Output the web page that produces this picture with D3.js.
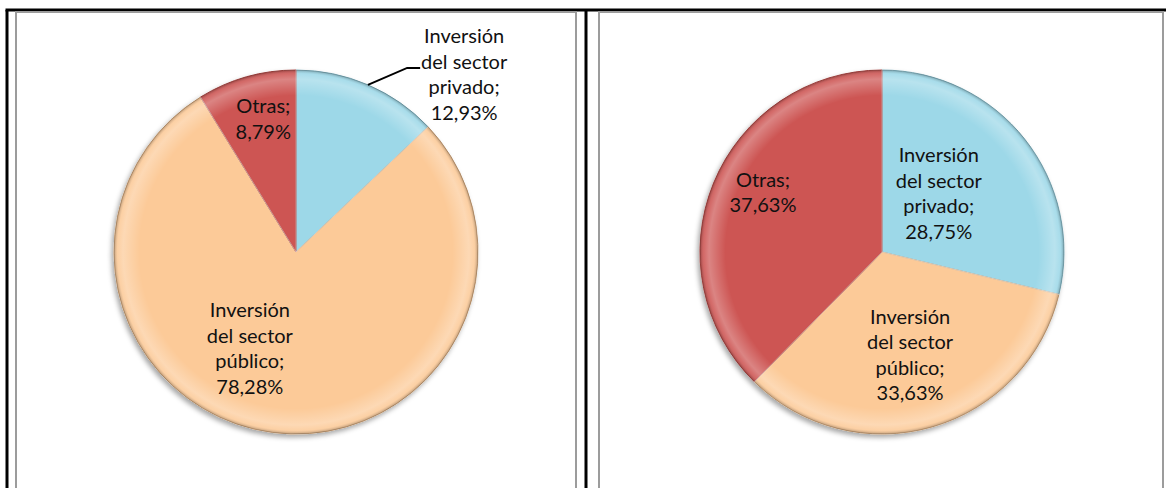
<!DOCTYPE html>
<html>
<head>
<meta charset="utf-8">
<script src="https://cdn.jsdelivr.net/npm/d3@7"></script>
<style>
	html, body { margin: 0; padding: 0; background: #fff; }
	svg text { font-family: Lato, "Noto Sans", sans-serif; font-size: 20px; fill: #111; }
</style>
</head>
<body>
<svg id="chart" width="1166" height="488"></svg>
<script>
// categories and values (percent) of both pies
var categories = ["Inversión del sector privado", "Inversión del sector público", "Otras"];
var labelLines = [
	["Inversión", "del sector", "privado;"],
	["Inversión", "del sector", "público;"],
	["Otras;"]
];
var valuesLeft = [12.93, 78.28, 8.79];
var valuesRight = [28.75, 33.63, 37.63];
var colors = ["#9dd8e8", "#fcca98", "#cd5552"];

var W = 1166, H = 488;
var svg = d3.select("#chart");
var defs = svg.append("defs");

// soft shadow below the pies
var shadow = defs.append("filter").attr("id", "shadow")
	.attr("x", "-10%").attr("y", "-10%").attr("width", "120%").attr("height", "120%");
shadow.append("feDropShadow")
	.attr("dx", -2).attr("dy", 3).attr("stdDeviation", 2.5)
	.attr("flood-color", "#000").attr("flood-opacity", 0.35);

// table borders (the chart sits in a two-cell table)
var borders = svg.append("g");
var black = function(x1, y1, x2, y2) {
	borders.append("line").attr("x1", x1).attr("y1", y1).attr("x2", x2).attr("y2", y2)
		.attr("stroke", "#000").attr("stroke-width", 3);
};
var grey = function(x1, y1, x2, y2) {
	borders.append("line").attr("x1", x1).attr("y1", y1).attr("x2", x2).attr("y2", y2)
		.attr("stroke", "#9c9c9c").attr("stroke-width", 2);
};
black(5.5, 10, W, 10);
black(7, 10, 7, H);
black(586, 10, 586, H);
grey(15, 12, 577, 12);
grey(16, 12, 16, H);
grey(576, 12, 576, H);
grey(598, 12, 1164, 12);
grey(599, 12, 599, H);
grey(1163, 12, 1163, H);

// layout of each pie: center, radius, label offsets from the 0.6r centroid
var pies = [
	{ id: "left", values: valuesLeft, cx: 296, cy: 252, r: 182,
		offsets: [[125, -77], [-32, -12], [-3, -28]], leader: [true, false, false] },
	{ id: "right", values: valuesRight, cx: 882, cy: 252, r: 182,
		offsets: [[-29, 9], [-2, -2], [-18, -18]], leader: [false, false, false] }
];

var fmt = function(v) { return d3.format(".2f")(v).replace(".", ",") + "%"; };
var lineH = 25.5;

pies.forEach(function(p) {
	var pie = d3.pie().sort(null).value(function(d) { return d; });
	var arcs = pie(p.values);
	var arc = d3.arc().innerRadius(0).outerRadius(p.r);
	var labelArc = d3.arc().innerRadius(p.r * 0.6).outerRadius(p.r * 0.6);
	var edgeArc = d3.arc().innerRadius(p.r).outerRadius(p.r);

	// bevel-like rim highlight
	var grad = defs.append("radialGradient").attr("id", "rim-" + p.id)
		.attr("gradientUnits", "userSpaceOnUse")
		.attr("cx", 0).attr("cy", 0).attr("r", p.r);
	[[0, "#fff", 0], [0.86, "#fff", 0], [0.95, "#fff", 0.28], [0.98, "#fff", 0.12], [1, "#000", 0.25]]
		.forEach(function(s) {
			grad.append("stop").attr("offset", s[0]).attr("stop-color", s[1]).attr("stop-opacity", s[2]);
		});

	var g = svg.append("g").attr("transform", "translate(" + p.cx + "," + p.cy + ")");
	var slices = g.append("g").attr("filter", "url(#shadow)");
	slices.selectAll("path.slice").data(arcs).enter().append("path")
		.attr("class", "slice")
		.attr("d", arc)
		.attr("fill", function(d, i) { return colors[i]; })
		.attr("stroke", function(d, i) { return d3.color(colors[i]).darker(0.6); })
		.attr("stroke-width", 1);
	g.selectAll("path.rim").data(arcs).enter().append("path")
		.attr("class", "rim")
		.attr("d", arc)
		.attr("fill", "url(#rim-" + p.id + ")");
	// light seam along slice boundaries
	g.selectAll("line.seam").data(arcs).enter().append("line")
		.attr("x1", 0).attr("y1", 0)
		.attr("x2", function(d) { return p.r * Math.sin(d.startAngle); })
		.attr("y2", function(d) { return -p.r * Math.cos(d.startAngle); })
		.attr("stroke", "rgba(255,255,255,0.45)").attr("stroke-width", 1);

	arcs.forEach(function(d, i) {
		var c = labelArc.centroid(d);
		var x = c[0] + p.offsets[i][0], y = c[1] + p.offsets[i][1];
		var lines = labelLines[i].concat([fmt(p.values[i])]);
		var y0 = y - (lines.length - 1) * lineH / 2;
		var t = g.append("text").attr("text-anchor", "middle");
		lines.forEach(function(l, k) {
			t.append("tspan").attr("x", x).attr("y", y0 + k * lineH).attr("dy", "0.35em").text(l);
		});
		if (p.leader[i]) {
			// leader from the slice edge to the left of the second label line
			var e = edgeArc.centroid(d);
			var tx = x - 44, ty = y0 + lineH + 6;
			g.append("polyline")
				.attr("points", [e, [tx - 13, ty], [tx, ty]].join(" "))
				.attr("fill", "none").attr("stroke", "#000").attr("stroke-width", 2);
		}
	});
});
</script>
</body>
</html>
